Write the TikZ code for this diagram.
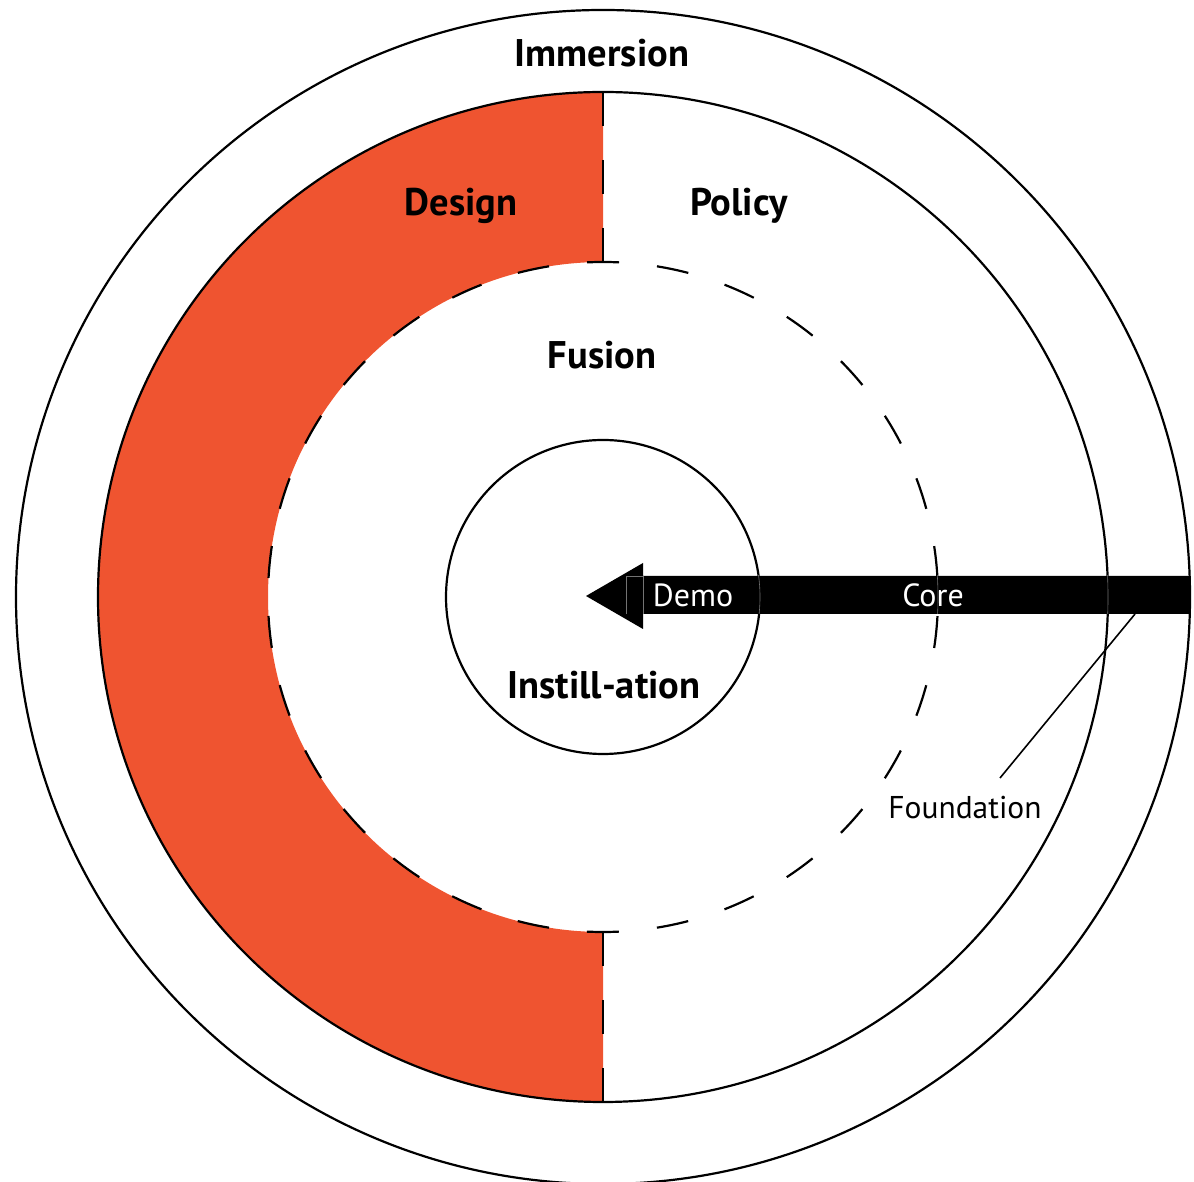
\documentclass[tikz,border=0pt]{standalone}
\usepackage{fontspec}
\setmainfont{PT Sans}
\definecolor{orng}{RGB}{239,84,48}
\tikzset{
  ring/.style={draw=black, line width=2.2pt},
  dashring/.style={draw=black, line width=2.2pt, dash pattern=on 32pt off 38.17pt, dash phase=51.1pt},
  bigl/.style={font=\fontsize{38.5}{44}\selectfont\bfseries, text=black},
  wlabel/.style={font=\fontsize{32}{36}\selectfont, text=white},
  blabel/.style={font=\fontsize{31.5}{36}\selectfont, text=black},
  thingray/.style={draw=black!55, line width=0.6pt}
}
\begin{document}
\begin{tikzpicture}[x=1pt,y=1pt]
\useasboundingbox (0,0) rectangle (1194,1181);
\coordinate (c) at (603,584);
% orange half annulus
\fill[orng] (603,1089) arc[start angle=90,end angle=270,radius=505] -- (603,249) arc[start angle=270,end angle=90,radius=335] -- cycle;
% circles
\draw[ring] (c) circle[radius=587];
\draw[ring] (c) circle[radius=505];
\draw[dashring] (c) circle[radius=335];
\draw[ring] (c) circle[radius=157];
% vertical dashed separators
\coordinate (topA) at (603,1089);
\coordinate (topB) at (603,919);
\coordinate (botA) at (603,249);
\coordinate (botB) at (603,79);
\draw[line width=2.2pt, dash pattern=on 34pt off 34pt] (topA) -- (topB);
\draw[line width=2.2pt, dash pattern=on 34pt off 34pt] (botA) -- (botB);
\draw[line width=2.2pt] (587,919) -- (618,919);
\draw[line width=2.2pt] (587,249) -- (618,249);
% arrow
\fill[black] (1190,605) -- (643,605) -- (643,618) -- (586,585) -- (643,552) -- (643,567) -- (1190,567) -- cycle;
\begin{scope}
\clip (626,567) rectangle (1190,605);
\draw[thingray] (c) circle[radius=157];
\draw[thingray] (c) circle[radius=335];
\draw[thingray] (c) circle[radius=505];
\draw[thingray] (626,567) rectangle (643,605);
\end{scope}
% labels
\node[bigl] (immersion) at (602,1128) {Immersion};
\node[bigl] (design) at (461,975) {Design};
\node[bigl] (policy) at (739,975) {Policy};
\node[bigl] (fusion) at (602,826) {Fusion};
\node[bigl] (instill) at (604,496) {Instill-ation};
\node[wlabel] (demo) at (693,586) {Demo};
\node[wlabel] (core) at (933,586) {Core};
\node[blabel] (found) at (965,373) {Foundation};
\coordinate (fend) at (1135,567);
\coordinate (fstart) at (1000,403);
\draw[line width=1.6pt] (fstart) -- (fend);
\end{tikzpicture}
\end{document}
